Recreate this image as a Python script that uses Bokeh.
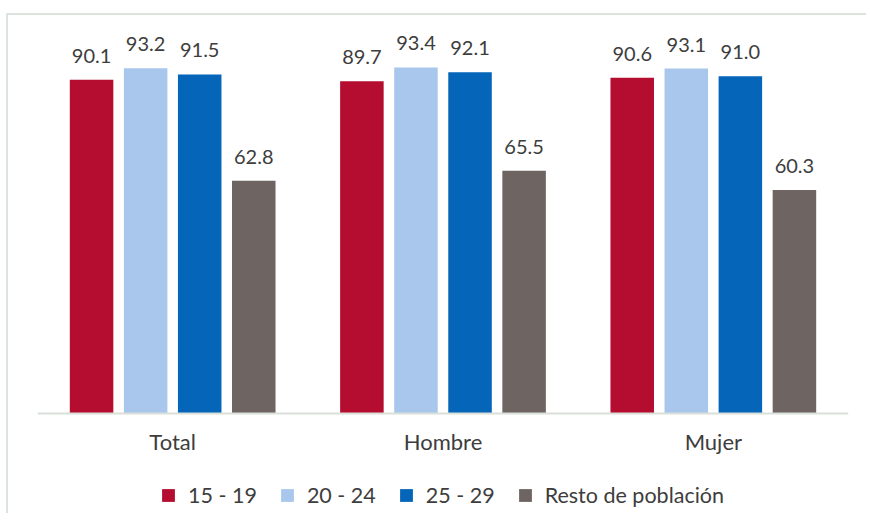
from bokeh.plotting import figure
from bokeh.models import FactorRange, Range1d, ColumnDataSource, Legend, LegendItem
from bokeh.transform import dodge
from bokeh.core.properties import value
from bokeh.embed import file_html
from bokeh.resources import INLINE

categories = ["Total", "Hombre", "Mujer"]
series = ["15 - 19", "20 - 24", "25 - 29", "Resto de población"]
v_15_19 = [90.1, 89.7, 90.6]
v_20_24 = [93.2, 93.4, 93.1]
v_25_29 = [91.5, 92.1, 91.0]
v_resto = [62.8, 65.5, 60.3]
colors = ["#B40D2F", "#A9C7EC", "#0565B8", "#6E6562"]
offsets = [-0.3, -0.1, 0.1, 0.3]

FONT = "Lato"
TXT = "#3d3d3d"

p = figure(x_range=FactorRange(factors=categories, range_padding=0),
           y_range=Range1d(-27.53, 106.07),
           width=860, height=500, output_backend="svg", toolbar_location=None,
           min_border_left=29, min_border_right=20, min_border_top=5, min_border_bottom=0)

p.styles = {"border-left": "2px solid #dde3dd", "border-top": "2px solid #dde3dd",
            "margin-top": "13px", "margin-left": "6px"}

items = []
for name, vals, col, off in zip(series, [v_15_19, v_20_24, v_25_29, v_resto], colors, offsets):
    src = ColumnDataSource(dict(cat=categories, val=vals, lab=[f"{v:.1f}" for v in vals]))
    r = p.vbar(x=dodge("cat", off, range=p.x_range), top="val", width=0.161, source=src,
               fill_color=col, line_color=None)
    p.text(x=dodge("cat", off, range=p.x_range), y="val", text="lab", source=src,
           text_align="center", text_baseline="alphabetic", y_offset=-24,
           text_font=value(FONT), text_font_size="20px", text_color=TXT)
    items.append(LegendItem(label=name, renderers=[r]))

legend = Legend(items=items, orientation="horizontal", location=(123, 7),
                glyph_width=16, glyph_height=16, label_standoff=12, spacing=22,
                padding=0, margin=0, background_fill_alpha=0, border_line_alpha=0,
                label_text_font=FONT, label_text_font_size="21.5px", label_text_color=TXT)
p.add_layout(legend)

p.yaxis.visible = False
p.xgrid.visible = False
p.ygrid.visible = False
p.outline_line_color = None
p.xaxis.fixed_location = 0
p.xaxis.axis_line_color = "#d9dfd9"
p.xaxis.axis_line_width = 2
p.xaxis.major_tick_line_color = None
p.xaxis.minor_tick_line_color = None
p.xaxis.major_label_standoff = 9
p.xaxis.major_label_text_font = FONT
p.xaxis.major_label_text_font_size = "22px"
p.xaxis.major_label_text_color = TXT

open("out.html", "w").write(file_html(p, INLINE))
